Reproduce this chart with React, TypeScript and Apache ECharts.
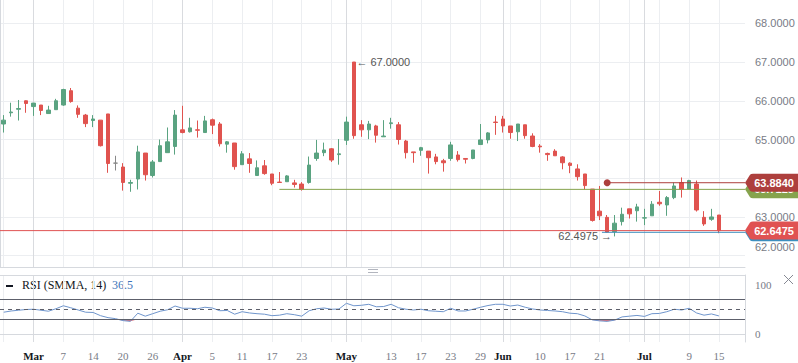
import React, { useEffect, useRef } from "react";
import * as echarts from "echarts";

// ---- data ----
const openP = [65.40, 65.69, 65.78, 66.00, 65.85, 65.89, 65.67, 65.77, 65.89, 66.26, 65.81, 65.63, 65.49, 65.50, 65.66, 64.39, 64.29, 63.87, 63.98, 64.65, 64.07, 64.43, 64.66, 64.82, 65.25, 65.20, 65.25, 65.18, 65.51, 65.40, 64.88, 64.91, 64.35, 64.50, 64.07, 64.32, 64.11, 63.90, 63.91, 63.88, 63.85, 63.89, 64.51, 64.66, 64.76, 64.61, 64.98, 67.00, 65.38, 65.25, 65.35, 65.07, 65.41, 65.38, 64.96, 64.68, 64.72, 64.70, 64.55, 64.45, 64.51, 64.60, 64.51, 64.51, 64.87, 64.99, 65.45, 65.53, 65.35, 65.20, 65.38, 65.09, 64.83, 64.64, 64.70, 64.55, 64.39, 64.24, 64.11, 63.72, 63.15, 62.99, 62.62, 62.88, 63.21, 63.16, 62.97, 63.03, 63.38, 63.31, 63.50, 63.89, 63.72, 63.85, 62.99, 62.94, 63.05];
const closeP = [65.50, 65.71, 65.80, 65.93, 65.94, 65.75, 65.76, 66.00, 66.29, 65.98, 65.65, 65.41, 65.53, 64.84, 64.38, 64.39, 63.89, 63.89, 64.68, 64.09, 64.42, 64.84, 64.94, 65.63, 65.18, 65.30, 65.24, 65.48, 65.37, 64.89, 64.94, 64.30, 64.63, 64.38, 64.27, 64.12, 63.87, 63.89, 64.06, 63.84, 63.71, 64.34, 64.65, 64.73, 64.47, 64.63, 65.45, 65.10, 65.25, 65.40, 65.11, 65.09, 65.43, 65.00, 64.66, 64.66, 64.79, 64.53, 64.43, 64.40, 64.86, 64.48, 64.49, 64.73, 64.99, 65.17, 65.44, 65.35, 65.18, 65.40, 65.10, 64.82, 64.81, 64.61, 64.58, 64.40, 64.33, 64.04, 63.81, 62.91, 63.03, 62.61, 62.84, 63.07, 63.08, 63.26, 62.98, 63.33, 63.34, 63.50, 63.80, 63.71, 63.94, 63.18, 62.82, 63.00, 62.6475];
const lowP = [65.18, 65.59, 65.49, 65.69, 65.61, 65.63, 65.67, 65.77, 65.87, 65.95, 65.56, 65.32, 65.32, 64.82, 64.14, 64.20, 63.68, 63.65, 63.71, 63.94, 64.02, 64.43, 64.66, 64.61, 65.16, 65.18, 65.05, 65.18, 65.14, 64.82, 64.66, 64.22, 64.35, 64.14, 64.07, 64.09, 63.82, 63.88, 63.91, 63.76, 63.68, 63.86, 64.45, 64.57, 64.42, 64.35, 64.86, 65.02, 65.07, 65.01, 64.92, 65.07, 65.28, 64.87, 64.51, 64.40, 64.58, 64.12, 64.36, 64.17, 64.45, 64.43, 64.38, 64.49, 64.87, 64.90, 65.12, 65.18, 65.02, 64.96, 65.02, 64.80, 64.66, 64.45, 64.58, 64.23, 64.13, 63.94, 63.71, 62.88, 62.92, 62.60, 62.4975, 62.78, 62.96, 62.88, 62.79, 63.03, 63.29, 63.03, 63.46, 63.50, 63.72, 63.14, 62.77, 62.90, 62.58];
const highP = [65.63, 65.95, 66.02, 66.01, 65.94, 65.89, 65.87, 66.05, 66.31, 66.33, 65.88, 65.66, 65.63, 65.50, 65.66, 64.58, 64.39, 63.96, 64.84, 64.65, 64.47, 65.00, 65.31, 65.76, 65.87, 65.56, 65.49, 65.61, 65.54, 65.45, 64.96, 64.91, 64.70, 64.65, 64.46, 64.47, 64.11, 64.16, 64.08, 63.96, 63.90, 64.56, 64.99, 64.92, 64.78, 65.01, 65.59, 67.00, 65.50, 65.48, 65.38, 65.50, 65.56, 65.45, 64.99, 64.68, 64.81, 64.70, 64.63, 64.50, 64.94, 64.70, 64.51, 64.73, 65.40, 65.19, 65.61, 65.61, 65.35, 65.40, 65.38, 65.16, 64.88, 64.66, 64.75, 64.57, 64.41, 64.36, 64.11, 63.72, 63.80, 63.05, 63.05, 63.24, 63.21, 63.34, 63.21, 63.41, 63.67, 63.54, 63.89, 64.02, 63.96, 63.94, 63.15, 63.21, 63.05];
const rsiValues = [44, 46.5, 48, 49.5, 50, 48, 46, 51, 57, 53, 48.5, 44, 43.5, 37, 33, 31, 27, 25.5, 42, 36, 41, 46, 49, 56.5, 52, 52, 51, 54, 52.5, 47, 47.5, 40, 45, 42.5, 41, 40, 37, 38, 41, 39, 36, 47, 51, 52.5, 50, 50.5, 62, 57, 58, 60, 55, 55.5, 60, 53, 50, 48.5, 50, 47, 46, 45, 52, 46.5, 46.5, 50, 54, 57.5, 60, 60, 56.5, 58.5, 54, 50.5, 48.5, 47.5, 46.5, 45, 42, 41, 36.5, 28.5, 26.5, 25.5, 28, 34.5, 36, 37.5, 35.5, 41, 41.5, 45, 50, 48.5, 52, 42.5, 38, 40.5, 36.5];

const tickIndex = [4, 8, 12, 16, 20, 24, 28, 32, 36, 40, 46, 52, 56, 60, 64, 67, 72, 76, 80, 86, 92, 96];
const tickText = ["Mar", "7", "14", "20", "26", "Apr", "5", "11", "17", "23", "May", "13", "17", "23", "29", "Jun", "10", "17", "21", "Jul", "9", "15"];
const monthIndex = [4, 24, 46, 67, 86];
const priceTicks = [62, 63, 64, 65, 66, 67, 68];
const rsiTicks = [0, 100];
const rsiLevels = [70, 50, 30];
const rsiOversold = 30;

const lastPrice = 62.6475;
const oliveLevel = 63.7125;
const darkRedLevel = 63.884;
const blueLevel = 62.604;
const oliveStart = 37.5;
const darkRedStart = 81.5;
const blueStart = 80.8;
const peakIndex = 47;
const peakValue = 67.0;
const troughIndex = 82;
const troughValue = 62.4975;

const SLOTS = 100;

const GREEN = "#5aa381";
const RED = "#e0534f";
const GRID = "#eceef1";
const MONTH_GRID = "#d9dbdf";
const BORDER = "#d6d9de";
const AXIS_TXT = "#787b86";

export default function App() {
  const ref = useRef<HTMLDivElement>(null);

  useEffect(() => {
    document.body.style.margin = "0";
    if (!ref.current) return;
    const chart = echarts.init(ref.current, null, { renderer: "svg" });

    const cats = Array.from({ length: SLOTS }, (_, i) => String(i));
    const candles = openP.map((o, i) => [o, closeP[i], lowP[i], highP[i]]);
    // fill between the RSI line and the 30 level where RSI is below 30
    const fillBase = rsiValues.map((v) => Math.min(v, rsiOversold));
    const fillBand = rsiValues.map((v) => rsiOversold - Math.min(v, rsiOversold));

    const baseCat: any = {
      type: "category",
      data: cats,
      boundaryGap: true,
      axisTick: { show: false },
      axisLabel: { show: false },
      axisLine: { show: false },
    };
    const regularSplit = {
      show: true,
      interval: (i: number) => i % 4 === 0,
      alignWithLabel: true,
      lineStyle: { color: GRID, width: 1 },
    };
    const monthSplit = {
      show: true,
      interval: (i: number) => monthIndex.includes(i),
      alignWithLabel: true,
      lineStyle: { color: MONTH_GRID, width: 1 },
    };

    const tag = (price: number, color: string, z: number) => ({
      z,
      silent: true,
      symbol: "path://M0,9 L5,1 Q6,0 8,0 L56,0 L56,18 L8,18 Q6,18 5,17 Z",
      symbolSize: [56, 18],
      symbolOffset: [28, 0],
      itemStyle: { color },
      label: {
        show: true,
        position: "inside",
        formatter: price.toFixed(4),
        color: "#ffffff",
        fontSize: 11,
        fontWeight: "bold",
        fontFamily: "Liberation Sans, Arial, sans-serif",
        offset: [1, 0],
      },
      data: [{ coord: [SLOTS, price] }],
    });

    const option: any = {
      animation: false,
      backgroundColor: "#ffffff",
      grid: [
        { left: 0, right: 53, top: 0, height: 267, outerBoundsMode: "none" },
        { left: 0, right: 53, top: 275, height: 67, outerBoundsMode: "none" },
      ],
      xAxis: [
        {
          ...baseCat,
          gridIndex: 0,
          axisLine: { show: true, lineStyle: { color: BORDER } },
          splitLine: regularSplit,
        },
        { ...baseCat, gridIndex: 0, splitLine: monthSplit },
        { type: "value", gridIndex: 0, min: 0, max: SLOTS, show: false },
        {
          ...baseCat,
          gridIndex: 1,
          axisLine: { show: true, lineStyle: { color: BORDER } },
          splitLine: regularSplit,
          axisLabel: {
            show: true,
            interval: (i: number) => tickIndex.includes(i),
            margin: 8,
            formatter: (value: string) => {
              const i = Number(value);
              const k = tickIndex.indexOf(i);
              if (k < 0) return "";
              return monthIndex.includes(i) ? `{m|${tickText[k]}}` : `{d|${tickText[k]}}`;
            },
            rich: {
              m: { fontFamily: "Liberation Serif, serif", fontSize: 11, fontWeight: "bold", color: "#131722" },
              d: { fontFamily: "Liberation Serif, serif", fontSize: 11, color: AXIS_TXT },
            },
          },
        },
        {
          ...baseCat,
          gridIndex: 1,
          position: "top",
          axisLine: { show: true, lineStyle: { color: BORDER } },
          splitLine: monthSplit,
        },
      ],
      yAxis: [
        {
          type: "value",
          gridIndex: 0,
          position: "right",
          min: 61.708,
          max: 68.602,
          axisLine: { show: true, lineStyle: { color: BORDER } },
          axisTick: { show: false, customValues: priceTicks },
          splitLine: { show: true, lineStyle: { color: GRID } },
          axisLabel: {
            customValues: priceTicks,
            margin: 10,
            color: AXIS_TXT,
            fontSize: 11,
            fontFamily: "Liberation Sans, Arial, sans-serif",
            formatter: (v: number) =>
              v === priceTicks[0] ? `{lo|${v.toFixed(4)}}` : v.toFixed(4),
            rich: {
              lo: {
                padding: [0, 0, 18, 0],
                color: AXIS_TXT,
                fontSize: 11,
                fontFamily: "Liberation Sans, Arial, sans-serif",
              },
            },
          },
        },
        {
          type: "value",
          gridIndex: 1,
          position: "right",
          min: -16.2,
          max: 119.2,
          axisLine: { show: true, lineStyle: { color: BORDER } },
          axisTick: { show: false, customValues: rsiTicks },
          splitLine: { show: false },
          axisLabel: {
            customValues: rsiTicks,
            margin: 10,
            color: AXIS_TXT,
            fontSize: 11,
            fontFamily: "Liberation Serif, serif",
          },
        },
      ],
      series: [
        {
          type: "line",
          xAxisIndex: 2,
          yAxisIndex: 0,
          data: [[oliveStart, oliveLevel], [SLOTS, oliveLevel]],
          symbol: "none",
          silent: true,
          lineStyle: { color: "#86a34d", width: 1 },
          markPoint: tag(oliveLevel, "#86a34d", 5),
        },
        {
          type: "line",
          xAxisIndex: 2,
          yAxisIndex: 0,
          data: [
            { value: [darkRedStart, darkRedLevel], symbol: "circle", symbolSize: 7 },
            { value: [SLOTS, darkRedLevel], symbol: "none" },
          ],
          showSymbol: true,
          silent: true,
          itemStyle: { color: "#ad3f3d" },
          lineStyle: { color: "#ad3f3d", width: 1 },
          markPoint: tag(darkRedLevel, "#ad3f3d", 6),
        },
        {
          type: "line",
          xAxisIndex: 2,
          yAxisIndex: 0,
          data: [[blueStart, blueLevel], [SLOTS, blueLevel]],
          symbol: "none",
          silent: true,
          lineStyle: { color: "#3d8fbf", width: 1 },
          markPoint: tag(blueLevel, "#3d8fbf", 5),
        },
        {
          type: "line",
          xAxisIndex: 2,
          yAxisIndex: 0,
          data: [[0, lastPrice], [SLOTS, lastPrice]],
          symbol: "none",
          silent: true,
          lineStyle: { color: "#e05252", width: 1 },
          markPoint: tag(lastPrice, "#e05252", 6),
        },
        {
          type: "candlestick",
          xAxisIndex: 0,
          yAxisIndex: 0,
          data: candles,
          barWidth: 4,
          silent: true,
          itemStyle: {
            color: GREEN,
            color0: RED,
            borderColor: GREEN,
            borderColor0: RED,
            borderColorDoji: "#888888",
            borderWidth: 1,
          },
          markPoint: {
            silent: true,
            symbol: "circle",
            symbolSize: 1,
            itemStyle: { color: "rgba(0,0,0,0)" },
            label: {
              show: true,
              color: "#555555",
              fontSize: 11,
              fontFamily: "Liberation Sans, Arial, sans-serif",
            },
            data: [
              {
                coord: [peakIndex, peakValue],
                label: { position: "right", distance: 2, formatter: "\u2190 " + peakValue.toFixed(4) },
              },
              {
                coord: [troughIndex, troughValue],
                label: { position: "left", distance: 2, formatter: troughValue.toFixed(4) + " \u2192" },
              },
            ],
          },
        },
        {
          type: "line",
          xAxisIndex: 3,
          yAxisIndex: 1,
          data: fillBase,
          stack: "rsiFill",
          symbol: "none",
          silent: true,
          lineStyle: { opacity: 0, width: 0 },
        },
        {
          type: "line",
          xAxisIndex: 3,
          yAxisIndex: 1,
          data: fillBand,
          stack: "rsiFill",
          symbol: "none",
          silent: true,
          lineStyle: { opacity: 0, width: 0 },
          areaStyle: { color: "#d9707a", opacity: 1 },
        },
        {
          type: "line",
          xAxisIndex: 3,
          yAxisIndex: 1,
          data: rsiValues,
          symbol: "none",
          silent: true,
          lineStyle: { color: "#6f95cc", width: 1 },
          markLine: {
            silent: true,
            symbol: ["none", "none"],
            label: { show: false },
            data: rsiLevels.map((v) => ({
              yAxis: v,
              lineStyle: { color: "#5d606b", width: 1, type: v === 50 ? [4, 4] : "solid" },
            })),
          },
        },
      ],
      graphic: [
        { type: "rect", left: 6, top: 285, shape: { width: 7, height: 2 }, style: { fill: "#131722" }, silent: true },
        {
          type: "text",
          left: 22,
          top: 279,
          style: { text: "RSI (SMMA, 14)", fill: "#131722", font: "12px 'Liberation Serif', serif" },
          silent: true,
        },
        {
          type: "text",
          left: 112,
          top: 279,
          style: {
            text: String(rsiValues[rsiValues.length - 1]),
            fill: "#3d74b8",
            font: "12px 'Liberation Serif', serif",
          },
          silent: true,
        },
        { type: "rect", left: 368, top: 269, shape: { width: 10, height: 1 }, style: { fill: "#b2b5be" }, silent: true },
        { type: "rect", left: 368, top: 272, shape: { width: 10, height: 1 }, style: { fill: "#b2b5be" }, silent: true },
        {
          type: "line",
          shape: { x1: 784, y1: 275, x2: 793, y2: 284 },
          style: { stroke: "#868993", lineWidth: 1 },
          silent: true,
        },
        {
          type: "line",
          shape: { x1: 784, y1: 284, x2: 793, y2: 275 },
          style: { stroke: "#868993", lineWidth: 1 },
          silent: true,
        },
      ],
    };

    chart.setOption(option);
    return () => chart.dispose();
  }, []);

  return <div ref={ref} style={{ width: 798, height: 363 }} />;
}
